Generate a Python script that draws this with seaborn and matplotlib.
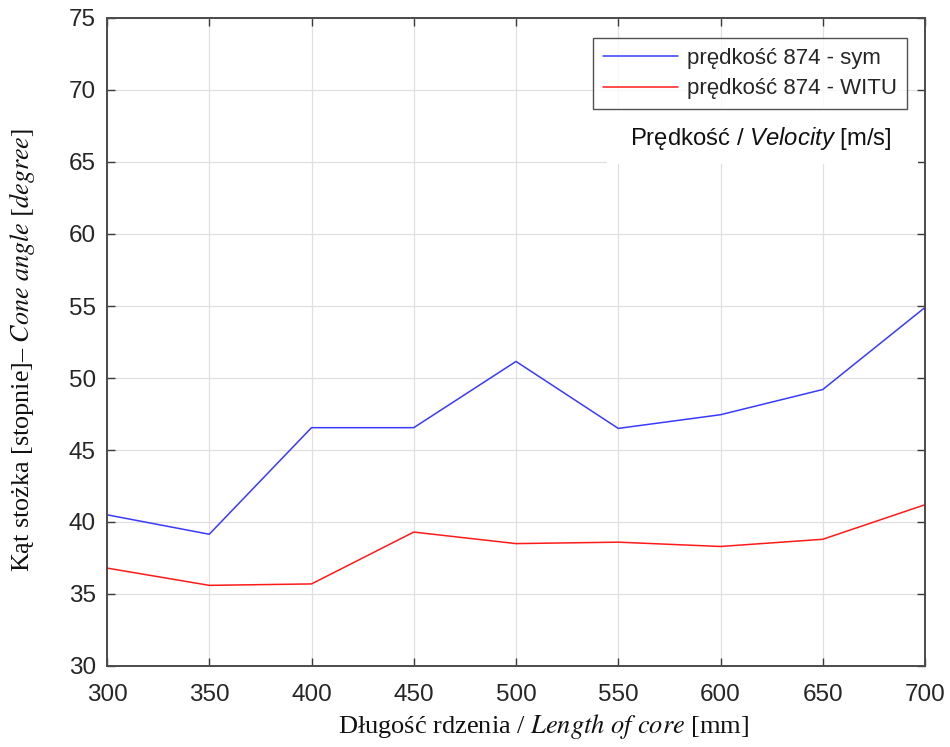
import matplotlib
matplotlib.use("Agg")
import matplotlib.pyplot as plt
import seaborn as sns
import pandas as pd
from matplotlib.lines import Line2D
from matplotlib.patches import Rectangle

length_mm = [300, 350, 400, 450, 500, 550, 600, 650, 700]
angle_sym = [40.5, 39.15, 46.55, 46.55, 51.15, 46.5, 47.45, 49.2, 54.9]
angle_witu = [36.8, 35.6, 35.7, 39.3, 38.5, 38.6, 38.3, 38.8, 41.2]
series_names = ["prędkość 874 - sym", "prędkość 874 - WITU"]
series_colors = ["#3a3aff", "#ff1a1a"]
x_ticks = [300, 350, 400, 450, 500, 550, 600, 650, 700]
y_ticks = [30, 35, 40, 45, 50, 55, 60, 65, 70, 75]

df = pd.DataFrame({
    "x": length_mm * 2,
    "y": angle_sym + angle_witu,
    "series": [series_names[0]] * len(length_mm) + [series_names[1]] * len(length_mm),
})

sns.set_theme(style="white")
plt.rcParams["font.family"] = ["Liberation Sans", "DejaVu Sans"]
plt.rcParams["mathtext.fontset"] = "custom"
plt.rcParams["mathtext.rm"] = "Liberation Sans"
plt.rcParams["mathtext.it"] = "Liberation Sans:italic"

fig = plt.figure(figsize=(9.5, 7.47), dpi=100)
ax = fig.add_axes([107 / 950, 1 - 666 / 747, (925 - 107) / 950, (666 - 18) / 747])

sns.lineplot(data=df, x="x", y="y", hue="series", palette=series_colors,
             hue_order=series_names, ax=ax, linewidth=1.1, legend=False)

ax.set_xlim(300, 700)
ax.set_ylim(30, 75)
ax.set_xticks(x_ticks)
ax.set_yticks(y_ticks)
ax.tick_params(axis="both", labelsize=17.5, colors="#3a3a3a", direction="in",
               length=6, width=1, right=True, top=True, left=True, bottom=True)
ax.tick_params(axis="x", pad=13)
ax.tick_params(axis="y", pad=8)
ax.tick_params(axis="both", labelcolor="#262626")
ax.grid(True, color="#e0e0e0", linewidth=0.9)
for s in ax.spines.values():
    s.set_color("#4a4a4a")
    s.set_linewidth(1.4)

ax.set_xlabel("Długość rdzenia / $\\it{Length\\ of\\ core}$ [mm]",
              fontsize=19, family=["Liberation Serif", "DejaVu Serif"],
              math_fontfamily="stix", labelpad=4, color="#111111")
ax.set_ylabel("Kąt stożka [stopnie]– $\\it{Cone\\ angle\\ [degree]}$",
              fontsize=18.8, family=["Liberation Serif", "DejaVu Serif"],
              math_fontfamily="stix", labelpad=23, color="#111111")
ax.xaxis.label.set_x(0.534)
ax.yaxis.label.set_y(0.488)

# white box behind the velocity caption
ax.add_patch(Rectangle((607 / 950, 1 - 164 / 747), (918 - 607) / 950, (164 - 107) / 747,
                       transform=fig.transFigure, facecolor="white",
                       edgecolor="none", zorder=2.5))
ax.text(892 / 950, 1 - 139 / 747, "Prędkość / $\\it{Velocity}$ [m/s]",
        transform=fig.transFigure,
        ha="right", va="center", fontsize=17.2, color="#111111", zorder=3,
        math_fontfamily="custom")

handles = [Line2D([0], [0], color=c, lw=1.1) for c in series_colors]
leg = ax.legend(handles, series_names, loc="upper right",
                bbox_to_anchor=(907 / 950, 1 - 38 / 747),
                bbox_transform=fig.transFigure, fontsize=16, frameon=True,
                fancybox=False, edgecolor="#262626", handlelength=3.4,
                borderpad=0.45, labelspacing=0.42, handletextpad=0.4,
                borderaxespad=0)
leg.get_frame().set_linewidth(1.0)
leg.set_zorder(4)

fig.savefig("out.png", dpi=100)
